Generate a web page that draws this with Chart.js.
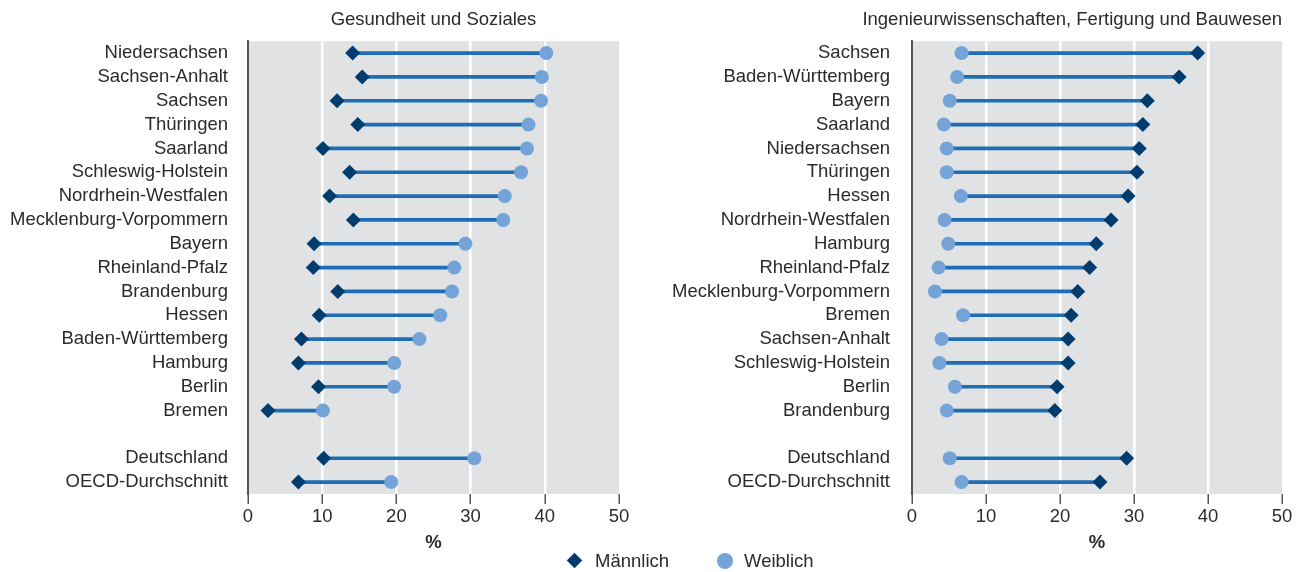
<!DOCTYPE html>
<html lang="de">
<head>
<meta charset="utf-8">
<title>Gesundheit und Soziales / Ingenieurwissenschaften</title>
<script src="https://cdn.jsdelivr.net/npm/chart.js@4.4.1/dist/chart.umd.min.js"></script>
<style>
  html, body { margin: 0; padding: 0; background: #fff; }
  body { width: 1306px; height: 572px; position: relative; overflow: hidden;
         font-family: "Liberation Sans", Arial, sans-serif; color: #2b2b2b; }
  .panel { position: absolute; top: 0; height: 572px; width: 653px; }
  #leftPanel { left: 0; }
  #rightPanel { left: 653px; }
  .legend { position: absolute; top: 550px; left: 0; width: 1306px; height: 22px; font-size: 18.5px; }
  .legend span { position: absolute; top: 0; line-height: 22px; }
  .mark-diamond { position: absolute; width: 11px; height: 11px; background: #003d6e; transform: rotate(45deg); }
  .mark-circle { position: absolute; width: 16px; height: 16px; border-radius: 50%; background: #74a3d8; }
</style>
</head>
<body>
<div class="panel" id="leftPanel"><canvas id="chartHealth"></canvas></div>
<div class="panel" id="rightPanel"><canvas id="chartEng"></canvas></div>
<div class="legend">
  <div class="mark-diamond" style="left:569px; top:5px;"></div>
  <span style="left:595px;">Männlich</span>
  <div class="mark-circle" style="left:717px; top:3px;"></div>
  <span style="left:744px;">Weiblich</span>
</div>
<script>
// Gesundheit und Soziales
const healthStates = ["Niedersachsen", "Sachsen-Anhalt", "Sachsen", "Thüringen", "Saarland",
  "Schleswig-Holstein", "Nordrhein-Westfalen", "Mecklenburg-Vorpommern", "Bayern",
  "Rheinland-Pfalz", "Brandenburg", "Hessen", "Baden-Württemberg", "Hamburg", "Berlin",
  "Bremen", "", "Deutschland", "OECD-Durchschnitt"];
const healthMale = [14.1, 15.4, 12.0, 14.8, 10.1, 13.7, 11.0, 14.2, 8.9, 8.8, 12.1, 9.6, 7.2, 6.8, 9.5, 2.7, null, 10.2, 6.8];
const healthFemale = [40.2, 39.6, 39.5, 37.8, 37.6, 36.8, 34.6, 34.4, 29.3, 27.8, 27.5, 25.9, 23.1, 19.7, 19.7, 10.1, null, 30.5, 19.3];

// Ingenieurwissenschaften, Fertigung und Bauwesen
const engStates = ["Sachsen", "Baden-Württemberg", "Bayern", "Saarland", "Niedersachsen",
  "Thüringen", "Hessen", "Nordrhein-Westfalen", "Hamburg", "Rheinland-Pfalz",
  "Mecklenburg-Vorpommern", "Bremen", "Sachsen-Anhalt", "Schleswig-Holstein", "Berlin",
  "Brandenburg", "", "Deutschland", "OECD-Durchschnitt"];
const engMale = [38.6, 36.1, 31.8, 31.2, 30.7, 30.4, 29.2, 26.9, 24.9, 24.0, 22.4, 21.5, 21.1, 21.1, 19.6, 19.3, null, 29.0, 25.4];
const engFemale = [6.7, 6.1, 5.1, 4.3, 4.7, 4.7, 6.6, 4.4, 4.9, 3.6, 3.1, 6.9, 4.0, 3.7, 5.8, 4.7, null, 5.1, 6.7];

const xMin = 0, xMax = 50, xStep = 10;

const FONT = "'Liberation Sans', Arial, sans-serif";
const TEXT = "#2b2b2b";
const plotBg = {
  id: "plotBg",
  beforeDraw(chart) {
    const a = chart.chartArea;
    chart.ctx.save();
    chart.ctx.fillStyle = "#e1e2e4";
    chart.ctx.fillRect(a.left, a.top, a.right - a.left, a.bottom - a.top);
    chart.ctx.restore();
  }
};

function makeChart(canvasId, title, titleAlign, titleFull, labels, male, female, yWidth, padRight, labelPad) {
  const spans = labels.map((_, i) => (male[i] == null ? null : [male[i], female[i]]));
  return new Chart(document.getElementById(canvasId), {
    type: "bar",
    data: {
      labels: labels,
      datasets: [
        {
          type: "line", label: "Männlich", indexAxis: "y", data: male, showLine: false,
          pointStyle: "rectRot", pointRadius: 7.5, backgroundColor: "#003d6e",
          borderColor: "#003d6e", borderWidth: 0, order: 1
        },
        {
          type: "line", label: "Weiblich", indexAxis: "y", data: female, showLine: false,
          pointStyle: "circle", pointRadius: 7, backgroundColor: "#74a3d8",
          borderColor: "#74a3d8", borderWidth: 0, order: 2
        },
        {
          type: "bar", label: "Abstand", indexAxis: "y", data: spans,
          backgroundColor: "#1f6eb5", barThickness: 3, order: 3
        }
      ]
    },
    options: {
      indexAxis: "y",
      responsive: false,
      animation: false,
      layout: { padding: { left: 0, right: padRight, top: 0, bottom: 0 } },
      plugins: {
        legend: { display: false },
        tooltip: { enabled: false },
        title: {
          display: true, text: title, align: titleAlign, fullSize: titleFull,
          color: TEXT, font: { family: FONT, size: 18.5, weight: "normal" },
          padding: { top: 9, bottom: 10 }
        }
      },
      scales: {
        x: {
          min: xMin, max: xMax,
          ticks: { stepSize: xStep, color: TEXT, font: { family: FONT, size: 18.5 }, padding: 2 },
          grid: {
            color: ctx => (ctx.tick && ctx.tick.value > xMin && ctx.tick.value < xMax ? "#ffffff" : "rgba(0,0,0,0)"),
            lineWidth: 2.5, tickColor: "#555", tickLength: 10, tickWidth: 1.5, drawOnChartArea: true
          },
          border: { display: false },
          title: {
            display: true, text: "%", color: TEXT,
            font: { family: FONT, size: 18.5, weight: "bold" }, padding: { top: 0, bottom: 18 }
          },
          afterFit(scale) { scale.height = 78; }
        },
        y: {
          offset: true,
          ticks: { color: TEXT, font: { family: FONT, size: 18.5 }, padding: labelPad, autoSkip: false },
          grid: { display: false, drawTicks: false },
          border: { display: true, color: "#555", width: 2 },
          afterFit(scale) { scale.width = yWidth; }
        }
      }
    },
    plugins: [plotBg]
  });
}

for (const c of document.querySelectorAll("canvas")) { c.width = 653; c.height = 572; }
makeChart("chartHealth", "Gesundheit und Soziales", "center", false, healthStates, healthMale, healthFemale, 248, 34, 20);
makeChart("chartEng", "Ingenieurwissenschaften, Fertigung und Bauwesen", "end", true, engStates, engMale, engFemale, 259, 24, 22);
</script>
</body>
</html>
